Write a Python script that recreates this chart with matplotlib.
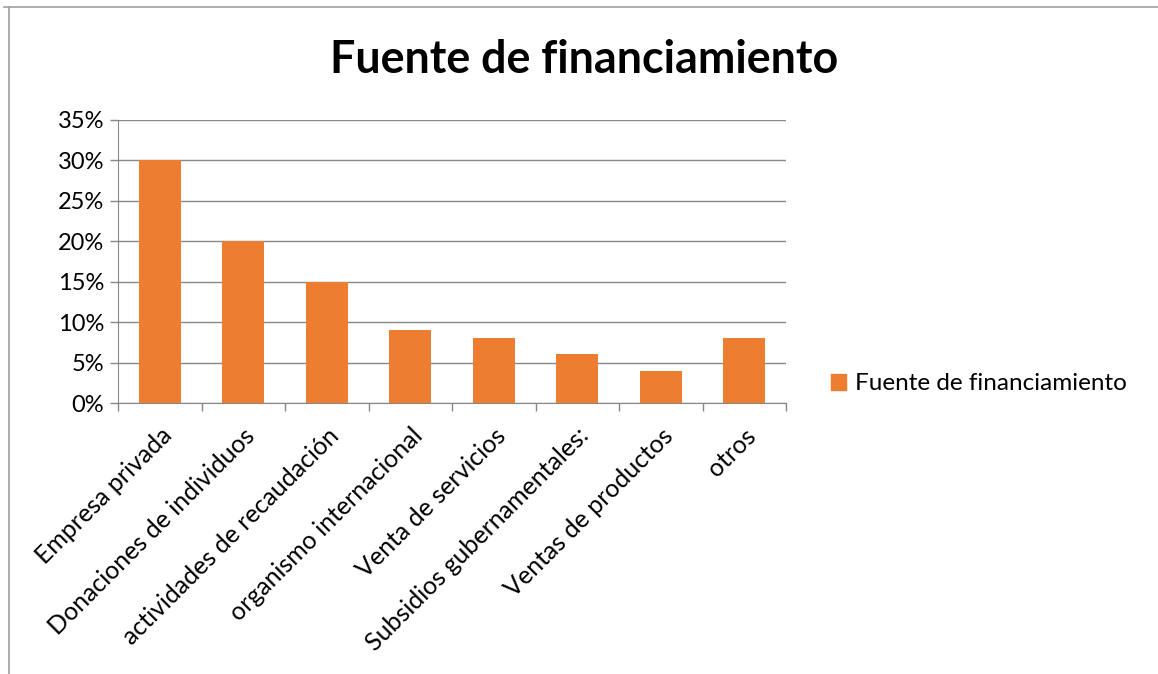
import matplotlib
matplotlib.use('Agg')
import matplotlib.pyplot as plt
from matplotlib.lines import Line2D
from matplotlib.patches import Patch
from matplotlib.ticker import FuncFormatter, MultipleLocator

plt.rcParams['font.family'] = ['Lato', 'DejaVu Sans']

categorias = ['Empresa privada', 'Donaciones de individuos',
              'actividades de recaudación', 'organismo internacional',
              'Venta de servicios', 'Subsidios gubernamentales:',
              'Ventas de productos', 'otros']
valores = [0.30, 0.20, 0.15, 0.09, 0.08, 0.06, 0.04, 0.08]
serie = 'Fuente de financiamiento'

naranja = '#ED7D31'
gris = '#878787'

W, H = 1158, 674
fig = plt.figure(figsize=(W / 100, H / 100), dpi=100)
ax = fig.add_axes([118 / W, 1 - 403 / H, (786 - 118) / W, (403 - 120) / H])

x = range(len(categorias))
ax.bar(x, valores, width=0.5, color=naranja, zorder=3)

ax.set_xlim(-0.5, len(categorias) - 0.5)
ax.set_ylim(0, 0.35)
ax.yaxis.set_major_locator(MultipleLocator(0.05))
ax.yaxis.set_major_formatter(FuncFormatter(lambda v, p: f'{v * 100:.0f}%'))
ax.grid(axis='y', color=gris, linewidth=1, zorder=0)

# marcas del eje x entre categorias
ax.set_xticks([i - 0.5 for i in range(len(categorias) + 1)])
ax.set_xticklabels([])
ax.set_xticks(list(x), minor=True)
ax.set_xticklabels(categorias, minor=True, rotation=45, ha='right',
                   rotation_mode='anchor', fontsize=18)
ax.tick_params(axis='x', which='minor', length=0, pad=15)
ax.tick_params(axis='x', which='major', length=6, color=gris, width=1)
ax.tick_params(axis='y', length=6, color=gris, width=1, labelsize=17, pad=4)

for s in ['top', 'right']:
    ax.spines[s].set_visible(False)
for s in ['left', 'bottom']:
    ax.spines[s].set_color(gris)

fig.text(584 / W, 1 - 60 / H, serie, ha='center', va='center',
         fontsize=32.3, fontweight='bold')

fig.legend(handles=[Patch(color=naranja, label=serie)], loc='center left',
           bbox_to_anchor=(831 / W, 1 - 384 / H), frameon=False,
           borderpad=0, borderaxespad=0,
           handlelength=0.62, handleheight=0.62, handletextpad=0.35,
           fontsize=17.5)

# borde del grafico
fig.add_artist(Line2D([4 / W, 1], [1 - 7 / H, 1 - 7 / H], color='#a0a0a0', lw=1.2))
fig.add_artist(Line2D([9 / W, 9 / W], [0, 1 - 7 / H], color='#a0a0a0', lw=1.2))

fig.savefig('out.png', dpi=100, facecolor='white')
